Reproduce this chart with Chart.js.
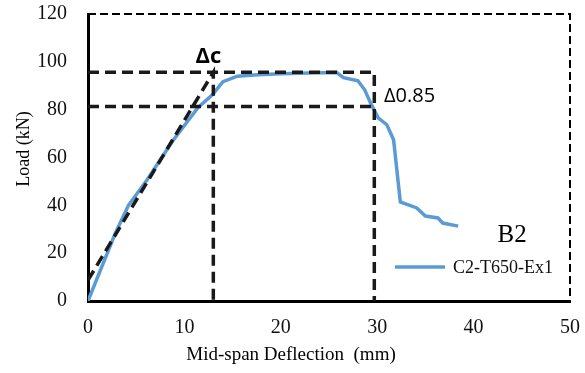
<!DOCTYPE html>
<html>
<head>
<meta charset="utf-8">
<script src="https://cdn.jsdelivr.net/npm/chart.js@4"></script>
<style>
  body { margin: 0; background: #fff; }
  #wrap { width: 585px; height: 373px; position: relative; }
</style>
</head>
<body>
<div id="wrap"><canvas id="loadChart"></canvas></div>
<script>
// measured curve (mid-span deflection in mm, load in kN)
const deflection = [0, 1.5, 2.8, 4.2, 6.1, 8.8, 11.4, 12.9, 14.0, 15.5, 17.6, 20, 23, 25.8, 26.5, 28, 28.7, 29.3, 30.1, 31, 31.7, 32.4, 34.1, 35, 36.3, 36.8, 38.4];
const load = [0, 15, 28, 40, 50.5, 67, 80.8, 86.2, 91.7, 94, 94.6, 95, 95.3, 95.5, 93.4, 92.1, 88.3, 82.9, 76.6, 73.7, 67.4, 41.4, 38.9, 35.5, 34.7, 32.6, 31.3];

// construction lines (null breaks the line)
const refX = [0, 13, 13, 13, 0, 29.7, 29.7, 29.7, 0, 29.7];
const refY = [8.7, 95.6, 0, null, 95.6, 95.6, 0, null, 81.3, 81.3];

const xTicks = [0, 10, 20, 30, 40, 50];
const yTicks = [0, 20, 40, 60, 80, 100, 120];

const seriesLabel = 'C2-T650-Ex1';
const blue = '#5b9bd5';
const serif = '"Liberation Serif", "Times New Roman", serif';
const sans = '"Open Sans", "Liberation Sans", sans-serif';

const extras = {
    id: 'extras',
    beforeDatasetsDraw(chart) {
        const { ctx, chartArea: a } = chart;
        ctx.save();
        ctx.strokeStyle = '#000';
        ctx.lineWidth = 2;
        ctx.setLineDash([8, 4]);
        ctx.beginPath();
        ctx.moveTo(a.left, a.top);
        ctx.lineTo(a.right, a.top);
        ctx.lineTo(a.right, a.bottom);
        ctx.stroke();
        ctx.restore();
    },
    afterDraw(chart) {
        const { ctx, scales: { x, y } } = chart;
        ctx.save();
        ctx.fillStyle = '#000';

        // axis titles
        ctx.font = '19px ' + serif;
        ctx.textAlign = 'center';
        ctx.textBaseline = 'middle';
        ctx.fillText('Mid-span Deflection  (mm)', 291, 355);
        ctx.save();
        ctx.translate(24, 149);
        ctx.rotate(-Math.PI / 2);
        ctx.font = '18px ' + serif;
        ctx.fillText('Load (kN)', 0, 0);
        ctx.restore();

        // annotations
        ctx.font = 'bold 22px ' + sans;
        ctx.fillText('\u0394c', x.getPixelForValue(12.5), y.getPixelForValue(102));
        ctx.font = '20px ' + sans;
        ctx.textAlign = 'left';
        ctx.fillText('\u03940.85', x.getPixelForValue(30.7), y.getPixelForValue(85.6));
        ctx.font = '25px ' + serif;
        ctx.textAlign = 'center';
        ctx.fillText('B2', x.getPixelForValue(44), y.getPixelForValue(27.4));

        // legend
        ctx.strokeStyle = blue;
        ctx.lineWidth = 3.5;
        ctx.beginPath();
        ctx.moveTo(395, 267);
        ctx.lineTo(445, 267);
        ctx.stroke();
        ctx.font = '18px ' + serif;
        ctx.textAlign = 'left';
        ctx.fillStyle = '#111';
        ctx.fillText(seriesLabel, 453, 268);
        ctx.restore();
    }
};

document.addEventListener('DOMContentLoaded', function () {
    const ctx = document.getElementById('loadChart').getContext('2d');
    new Chart(ctx, {
        type: 'line',
        data: {
            datasets: [
                {
                    label: 'construction',
                    data: refX.map((v, i) => ({ x: v, y: refY[i] })),
                    borderColor: '#1a1a1a',
                    borderWidth: 3.5,
                    borderDash: [11, 6],
                    pointRadius: 0,
                    spanGaps: false,
                    order: 0
                },
                {
                    label: seriesLabel,
                    data: deflection.map((v, i) => ({ x: v, y: load[i] })),
                    borderColor: blue,
                    borderWidth: 3.5,
                    pointRadius: 0,
                    tension: 0,
                    order: 1
                }
            ]
        },
        options: {
            responsive: true,
            maintainAspectRatio: false,
            animation: false,
            layout: { padding: { top: 14, right: 15, left: 0, bottom: 0 } },
            plugins: {
                legend: { display: false },
                tooltip: { enabled: false }
            },
            scales: {
                x: {
                    type: 'linear',
                    min: 0,
                    max: 50,
                    afterFit: s => { s.height = 72; s.paddingLeft = 0; s.paddingRight = 0; },
                    afterBuildTicks: s => { s.ticks = xTicks.map(v => ({ value: v })); },
                    grid: { display: false },
                    border: { display: true, color: '#000', width: 3 },
                    ticks: { color: '#111', padding: 7, font: { family: serif, size: 20 } }
                },
                y: {
                    min: 0,
                    max: 120,
                    afterFit: s => { s.width = 88; s.paddingTop = 0; s.paddingBottom = 0; },
                    afterBuildTicks: s => { s.ticks = yTicks.map(v => ({ value: v })); },
                    grid: { display: false },
                    border: { display: true, color: '#000', width: 3 },
                    ticks: { color: '#111', padding: 13, font: { family: serif, size: 20 } }
                }
            }
        },
        plugins: [extras]
    });
});
</script>
</body>
</html>
